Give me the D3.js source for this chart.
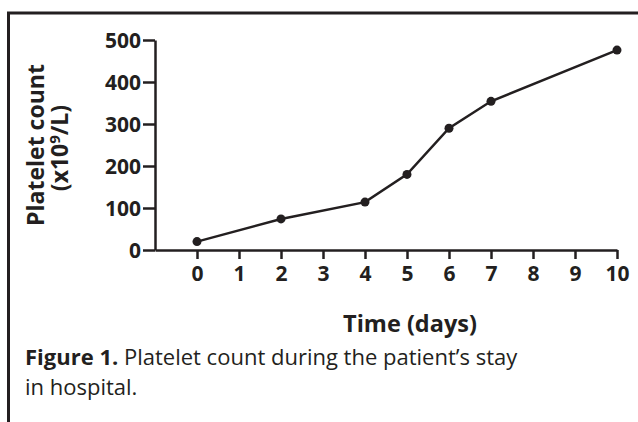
<!DOCTYPE html>
<html>
<head>
<meta charset="utf-8">
<script src="https://cdn.jsdelivr.net/npm/d3@7"></script>
<style>
  body { margin: 0; background: #fff; }
  text { font-family: "Open Sans", sans-serif; fill: #231f20; }
</style>
</head>
<body>
<svg id="chart" width="638" height="422"></svg>
<script>
// platelet count per day of stay
var days = [0, 2, 4, 5, 6, 7, 10];
var counts = [20, 74, 114, 180, 290, 354, 476];
var xTicks = [0, 1, 2, 3, 4, 5, 6, 7, 8, 9, 10];
var yTicks = [0, 100, 200, 300, 400, 500];

var ink = "#231f20";
var svg = d3.select("#chart");

// frame (top and left edges visible)
svg.append("path")
	.attr("d", "M8.5,422V13H638")
	.attr("fill", "none").attr("stroke", ink).attr("stroke-width", 3);

var x = d3.scaleLinear().domain([-1, 10]).range([155, 617]);
var y = d3.scaleLinear().domain([0, 500]).range([250, 40]);

var gy = svg.append("g").attr("transform", "translate(155,0)")
	.call(d3.axisLeft(y).tickValues(yTicks).tickSize(12).tickSizeOuter(0).tickPadding(2));
var gx = svg.append("g").attr("transform", "translate(0,250)")
	.call(d3.axisBottom(x).tickValues(xTicks).tickSize(9).tickSizeOuter(0).tickPadding(7));

[gx, gy].forEach(function(g){
	g.select(".domain").attr("stroke", ink).attr("stroke-width", 2.5);
	g.selectAll(".tick line").attr("stroke", ink).attr("stroke-width", 2.5);
	g.selectAll(".tick text").attr("fill", ink)
		.style("font-family", "'Open Sans', sans-serif")
		.style("font-size", "21px").style("font-weight", "bold");
});
gy.selectAll(".tick text").attr("dy", "0.36em");

var pts = days.map(function(d, i){ return [d, counts[i]]; });
var line = d3.line().x(function(d){ return x(d[0]); }).y(function(d){ return y(d[1]); });
svg.append("path").datum(pts).attr("d", line)
	.attr("fill", "none").attr("stroke", ink).attr("stroke-width", 2.5);
svg.selectAll("circle.pt").data(pts).enter().append("circle")
	.attr("class", "pt")
	.attr("cx", function(d){ return x(d[0]); })
	.attr("cy", function(d){ return y(d[1]); })
	.attr("r", 4.5).attr("fill", ink);

// axis titles
var ylab = svg.append("text").attr("transform", "translate(0,145) rotate(-90)")
	.attr("text-anchor", "middle").style("font-weight", "bold").style("font-size", "23px");
ylab.append("tspan").attr("x", 0).attr("y", 44).text("Platelet count");
var l2 = ylab.append("tspan").attr("x", -3).attr("y", 68).text("(x10");
l2.append("tspan").attr("dy", -8).style("font-size", "15px").text("9");
l2.append("tspan").attr("dy", 8).text("/L)");

svg.append("text").attr("x", 410).attr("y", 332).attr("text-anchor", "middle")
	.style("font-weight", "bold").style("font-size", "23.5px").text("Time (days)");

// caption, wrapped in one text element
var cap = svg.append("text").attr("x", 25).attr("y", 365).style("font-size", "22px");
cap.append("tspan").style("font-weight", "bold").text("Figure 1.");
cap.append("tspan").text(" Platelet count during the patient\u2019s stay");
cap.append("tspan").attr("x", 25).attr("dy", 30).text("in hospital.");
</script>
</body>
</html>
